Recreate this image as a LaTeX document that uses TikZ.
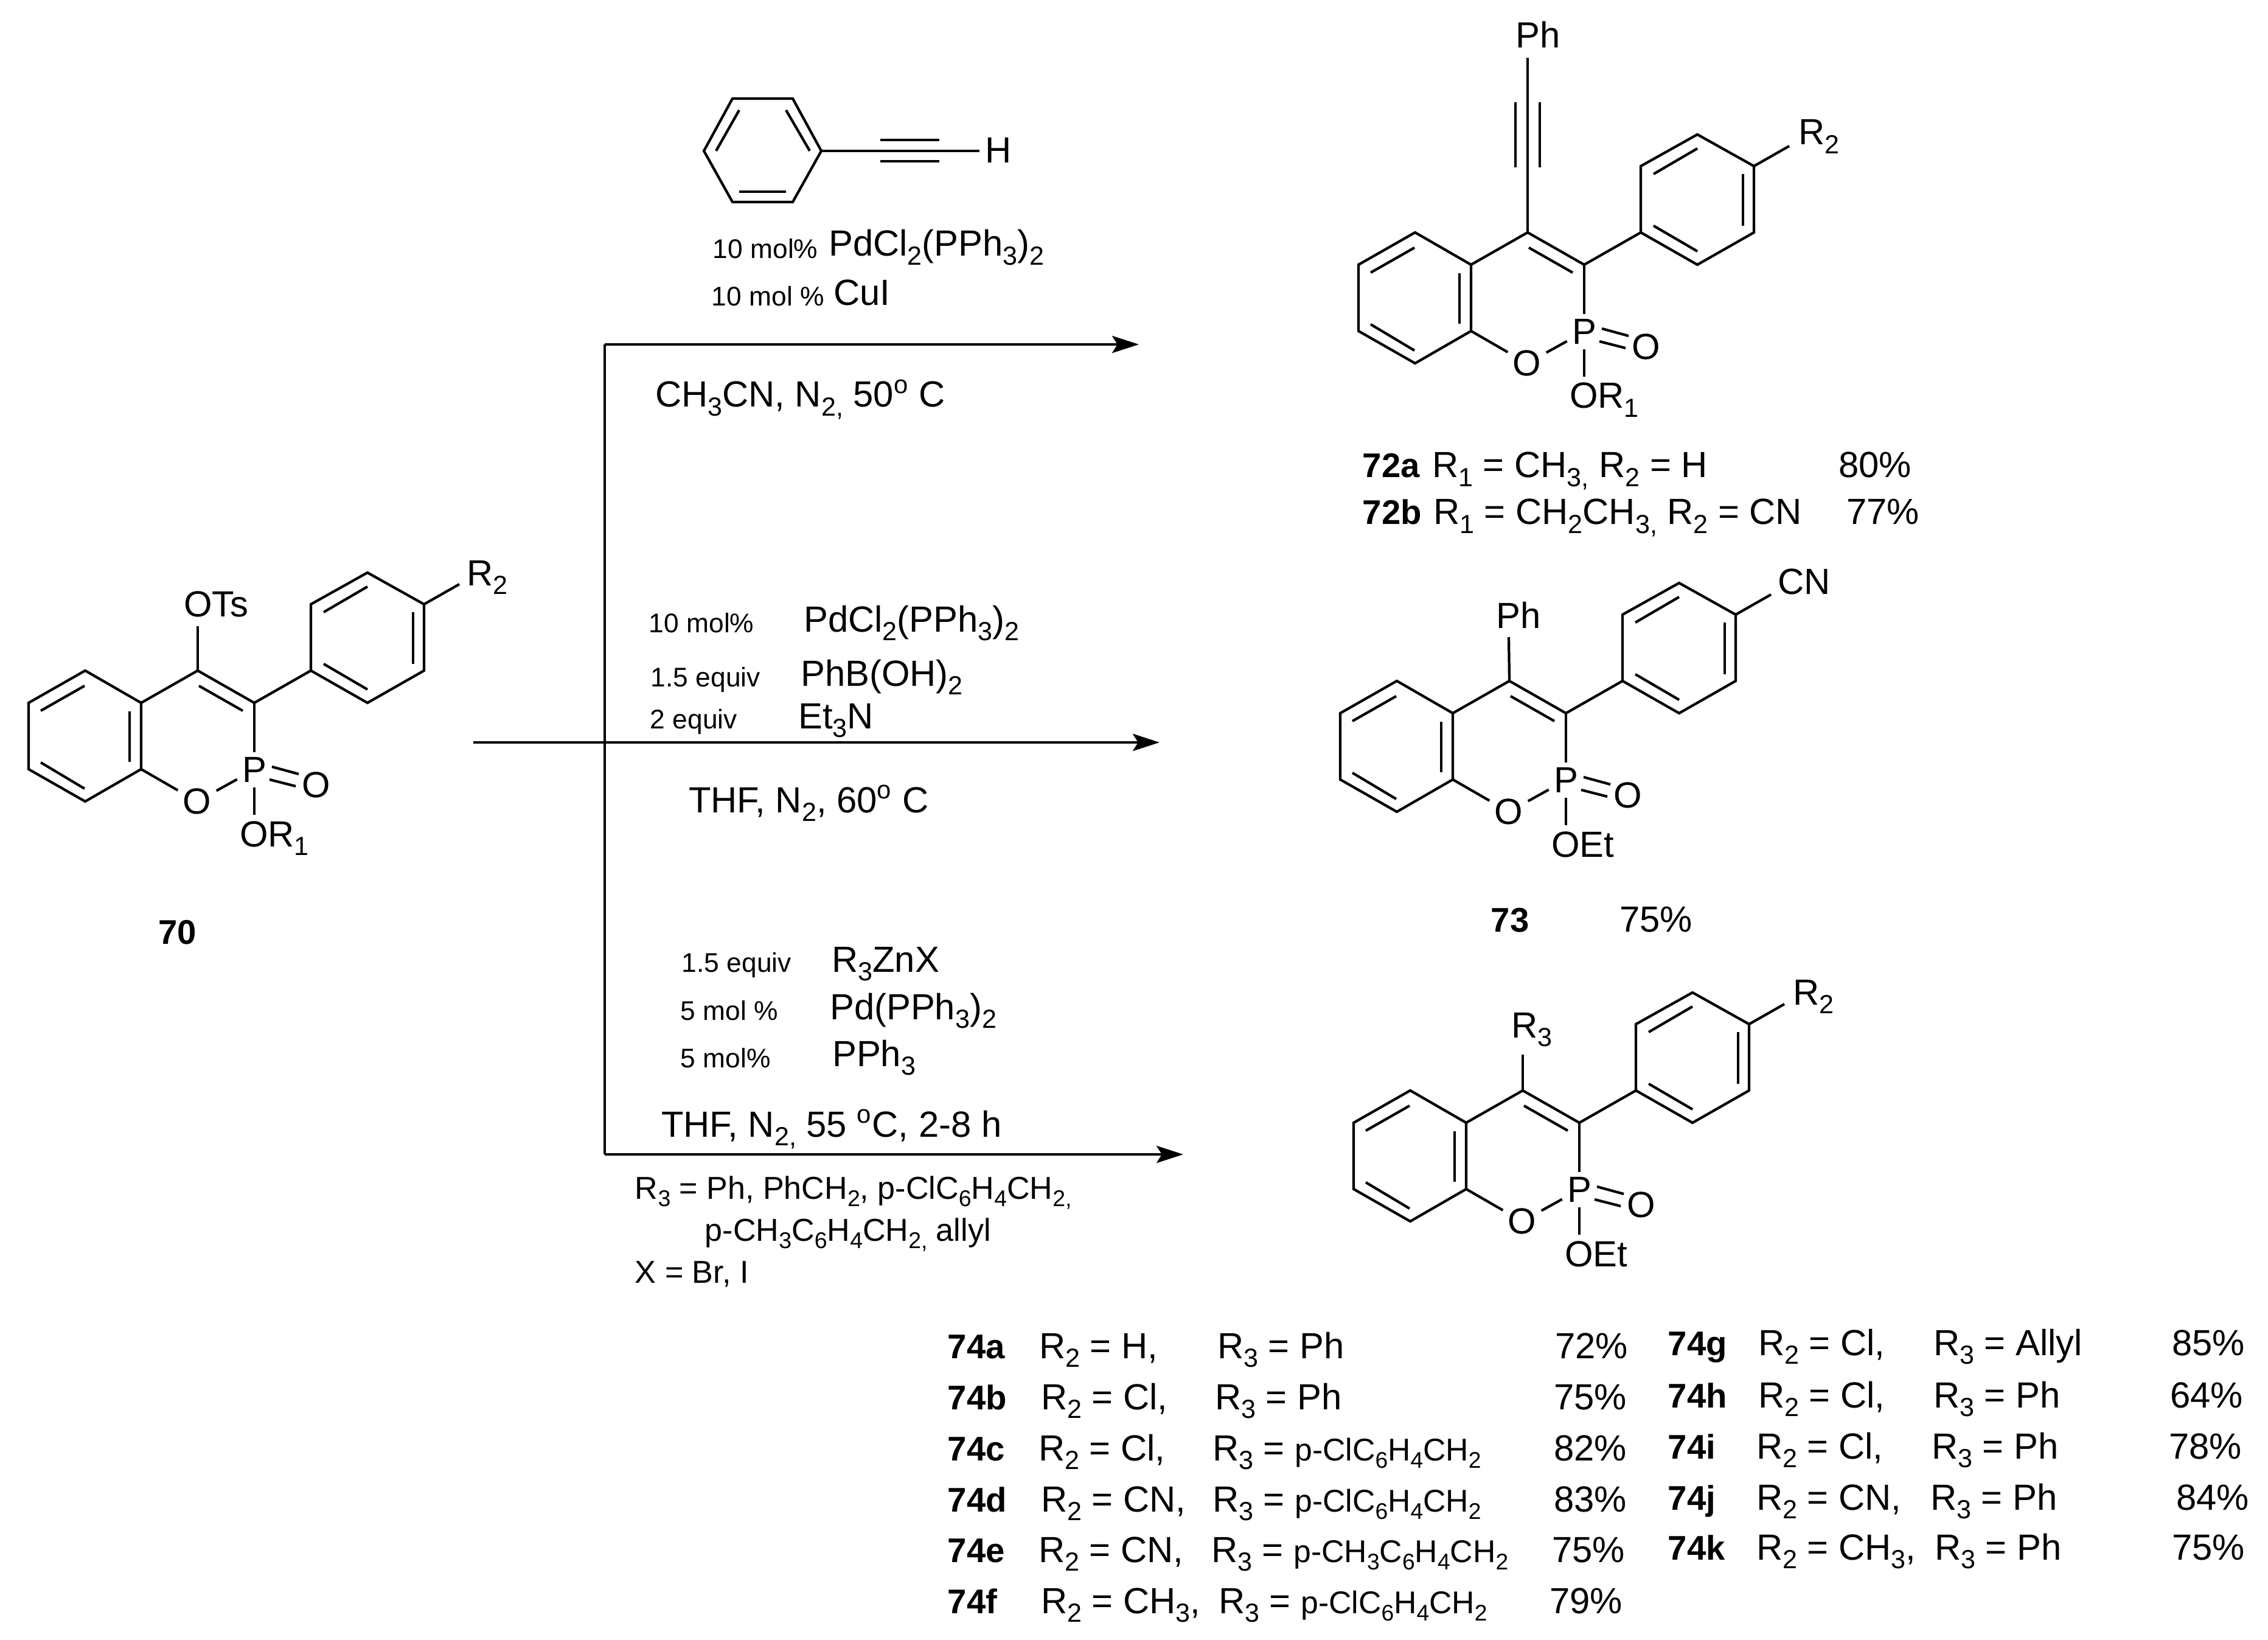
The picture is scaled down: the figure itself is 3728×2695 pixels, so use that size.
\documentclass[tikz,border=0pt]{standalone}
\usepackage{fontspec}
\setmainfont{Liberation Sans}
\newfontfamily\cmpdfont{Liberation Sans Bold}
\usetikzlibrary{arrows.meta}
\newcommand{\dn}[1]{\raisebox{-0.24em}{\scalebox{0.72}{#1}}}
\newcommand{\nar}{\fontsize{14.7}{16}\selectfont}

\tikzset{
    bond/.style={line width=1.2pt},
    rxn/.style={line width=1.35pt},
    tip/.style={-{Stealth[length=12.5pt,width=8pt,inset=2.5pt]}},
    txt/.style={anchor=base west,inner sep=0pt,xshift=-1pt,font=\fontsize{17}{20}\selectfont},
    mini/.style={anchor=base west,inner sep=0pt,xshift=-0.5pt,font=\fontsize{12.6}{14}\selectfont},
    note/.style={anchor=base west,inner sep=0pt,xshift=-0.5pt,font=\fontsize{14.8}{16}\selectfont},
    num/.style={anchor=base west,inner sep=0pt,font=\fontsize{16}{20}\cmpdfont},
    atom/.style={inner sep=2.2pt,font=\fontsize{17}{20}\selectfont},
    core/.pic={
        \coordinate (-cthree) at (0,0);
        \coordinate (-cfour) at (-93,-53);
        \coordinate (-b1) at (-186,0);
        \coordinate (-b2) at (-278,-53);
        \coordinate (-b3) at (-371,0);
        \coordinate (-b4) at (-371,109);
        \coordinate (-b5) at (-278,162);
        \coordinate (-b6) at (-186,109);
        \coordinate (-a1) at (93,-53);
        \coordinate (-a2) at (93,-162);
        \coordinate (-a3) at (186,-214);
        \coordinate (-a4) at (279,-162);
        \coordinate (-a5) at (279,-53);
        \coordinate (-a6) at (186,0);
        \coordinate (-rend) at (337,-195);
        \coordinate (-orend) at (0,184);
        \node[atom] (-p) at (0,110) {P};
        \node[atom] (-oring) at (-94,162) {O};
        \node[atom] (-oxo) at (102,135) {O};
        \node[txt] (-or) at (-21,236) {\tikzpictext};
        \draw[bond] (-b1)--(-b2)--(-b3)--(-b4)--(-b5)--(-b6)--cycle;
        \draw[bond] (-a1)--(-a2)--(-a3)--(-a4)--(-a5)--(-a6)--cycle;
        \draw[bond] (-b1)--(-cfour)--(-cthree)--(-a1);
        \draw[bond] (-cthree)--(-p);
        \draw[bond] (-b6)--(-oring);
        \draw[bond] (-oring)--(-p);
        \draw[bond] (-p)--(-orend);
        \draw[bond] (-a4)--(-rend);
        % inner lines of the double bonds
        \draw[bond] (-351,13)--(-279,-28);
        \draw[bond] (-205,14)--(-205,97);
        \draw[bond] (-351,98)--(-279,141);
        \draw[bond] (-91,-28)--(-19,13);
        \draw[bond] (114,-149)--(186,-191);
        \draw[bond] (261,-149)--(261,-64);
        \draw[bond] (114,-64)--(186,-22);
        \draw[bond] (29,105)--(73,117);
        \draw[bond] (25,126)--(68,137);
    },
}

\begin{document}
\begin{tikzpicture}[x=0.01cm,y=-0.01cm]
    \useasboundingbox (0,0) rectangle (3728,2695);

    % arrows
    \coordinate (start) at (778,1220);
    \coordinate (top) at (994,566);
    \coordinate (bot) at (994,1897);
    \coordinate (tipa) at (1872,566);
    \coordinate (tipb) at (1906,1220);
    \coordinate (tipc) at (1945,1897);
    \draw[rxn] (top) -- (bot);
    \draw[rxn,tip] (top) -- (tipa);
    \draw[rxn,tip] (start) -- (tipb);
    \draw[rxn,tip] (bot) -- (tipc);

    % starting material
    \pic[pic text={OR\dn{1}}] (m70) at (418,1155) {core};
    \coordinate (otsend) at (325,1029);
    \node[txt] (ots) at (305,1014) {OTs};
    \node[txt] (r70) at (770,962) {R\dn{2}};
    \node[num] (n70) at (260,1551) {70};
    \draw[bond] (m70-cfour) -- (otsend);

    % phenylacetylene
    \coordinate (h1) at (1157,248);
    \coordinate (h2) at (1204,162);
    \coordinate (h3) at (1303,162);
    \coordinate (h4) at (1350,248);
    \coordinate (h5) at (1303,332);
    \coordinate (h6) at (1204,332);
    \node[txt] (hyd) at (1622,268) {H};
    \coordinate (hend) at (1610,248);
    \draw[bond] (h1)--(h2)--(h3)--(h4)--(h5)--(h6)--cycle;
    \draw[bond] (1215,181)--(1177,248);
    \draw[bond] (1292,181)--(1331,248);
    \draw[bond] (1215,315)--(1292,315);
    \draw[bond] (h4)--(hend);
    \draw[bond] (1447,230)--(1544,230);
    \draw[bond] (1447,265)--(1544,265);

    % upper conditions
    \node[mini] (qa) at (1173,425) {10 mol\%};
    \node[txt] (ra) at (1365,421) {PdCl\dn{2}(PPh\dn{3})\dn{2}};
    \node[mini] (qb) at (1171,503) {10 mol \%};
    \node[txt] (rb) at (1373,502) {CuI};
    \node[txt] (sa) at (1080,669) {CH\dn{3}CN, N\dn{2,} 50\textsuperscript{o} C};

    % middle conditions
    \node[mini] (qc) at (1068,1040) {10 mol\%};
    \node[txt] (rc) at (1324,1038) {PdCl\dn{2}(PPh\dn{3})\dn{2}};
    \node[mini] (qd) at (1071,1128) {1.5 equiv};
    \node[txt] (rd) at (1319,1127) {PhB(OH)\dn{2}};
    \node[mini] (qe) at (1070,1197) {2 equiv};
    \node[txt] (re) at (1315,1197) {Et\dn{3}N};
    \node[txt] (sb) at (1135,1335) {THF, N\dn{2}, 60\textsuperscript{o} C};

    % lower conditions
    \node[mini] (qf) at (1122,1597) {1.5 equiv};
    \node[txt] (rf) at (1370,1597) {R\dn{3}ZnX};
    \node[mini] (qg) at (1120,1676) {5 mol \%};
    \node[txt] (rg) at (1367,1675) {Pd(PPh\dn{3})\dn{2}};
    \node[mini] (qh) at (1120,1754) {5 mol\%};
    \node[txt] (rh) at (1371,1752) {PPh\dn{3}};
    \node[txt] (sc) at (1090,1868) {THF, N\dn{2,} 55 \textsuperscript{o}C, 2-8 h};
    \node[note] (da) at (1045,1970) {R\dn{3} = Ph, PhCH\dn{2}, p-ClC\dn{6}H\dn{4}CH\dn{2,}};
    \node[note] (db) at (1160,2039) {p-CH\dn{3}C\dn{6}H\dn{4}CH\dn{2,} allyl};
    \node[note] (dc) at (1045,2108) {X = Br, I};

    % product 72
    \pic[pic text={OR\dn{1}}] (m72) at (2604,435) {core};
    \coordinate (yneend) at (2511,95);
    \node[txt] (ph72) at (2494,79) {Ph};
    \node[txt] (r72) at (2959,238) {R\dn{2}};
    \draw[bond] (m72-cfour) -- (yneend);
    \draw[bond] (2491,168)--(2491,275);
    \draw[bond] (2531,168)--(2531,275);
    \node[num] (n72a) at (2239,785) {72a};
    \node[txt] (t72a) at (2357,785) {R\dn{1} = CH\dn{3,} R\dn{2} = H};
    \node[txt] (y72a) at (3025,785) {80\%};
    \node[num] (n72b) at (2239,862) {72b};
    \node[txt] (t72b) at (2359,862) {R\dn{1} = CH\dn{2}CH\dn{3,} R\dn{2} = CN};
    \node[txt] (y72b) at (3038,862) {77\%};

    % product 73
    \pic[pic text={OEt}] (m73) at (2574,1172) {core};
    \coordinate (phend) at (2480,1047);
    \node[txt] (ph73) at (2462,1033) {Ph};
    \node[txt] (cn73) at (2925,977) {CN};
    \draw[bond] (m73-cfour) -- (phend);
    \node[num] (n73) at (2450,1531) {73};
    \node[txt] (y73) at (2665,1531) {75\%};

    % product 74
    \pic[pic text={OEt}] (m74) at (2596,1845) {core};
    \coordinate (rthreeend) at (2503,1733);
    \node[txt] (r74) at (2487,1705) {R\dn{3}};
    \node[txt] (rr74) at (2950,1651) {R\dn{2}};
    \draw[bond] (m74-cfour) -- (rthreeend);

    % table, left side
    \node[num] (n74a) at (1557,2232) {74a};
    \node[txt] (p74a) at (1711,2232) {R\dn{2} = H,};
    \node[txt] (q74a) at (2004,2232) {R\dn{3} = Ph};
    \node[txt] (y74a) at (2559,2232) {72\%};
    \node[num] (n74b) at (1557,2316) {74b};
    \node[txt] (p74b) at (1714,2316) {R\dn{2} = Cl,};
    \node[txt] (q74b) at (2000,2316) {R\dn{3} = Ph};
    \node[txt] (y74b) at (2557,2316) {75\%};
    \node[num] (n74c) at (1557,2400) {74c};
    \node[txt] (p74c) at (1710,2400) {R\dn{2} = Cl,};
    \node[txt] (q74c) at (1996,2400) {R\dn{3} = {\nar p-ClC\dn{6}H\dn{4}CH\dn{2}}};
    \node[txt] (y74c) at (2557,2400) {82\%};
    \node[num] (n74d) at (1557,2484) {74d};
    \node[txt] (p74d) at (1714,2484) {R\dn{2} = CN,};
    \node[txt] (q74d) at (1996,2484) {R\dn{3} = {\nar p-ClC\dn{6}H\dn{4}CH\dn{2}}};
    \node[txt] (y74d) at (2557,2484) {83\%};
    \node[num] (n74e) at (1557,2567) {74e};
    \node[txt] (p74e) at (1710,2567) {R\dn{2} = CN,};
    \node[txt] (q74e) at (1994,2567) {R\dn{3} = {\nar p-CH\dn{3}C\dn{6}H\dn{4}CH\dn{2}}};
    \node[txt] (y74e) at (2554,2567) {75\%};
    \node[num] (n74f) at (1557,2651) {74f};
    \node[txt] (p74f) at (1714,2651) {R\dn{2} = CH\dn{3},};
    \node[txt] (q74f) at (2006,2651) {R\dn{3} = {\nar p-ClC\dn{6}H\dn{4}CH\dn{2}}};
    \node[txt] (y74f) at (2550,2651) {79\%};

    % table, right side
    \node[num] (n74g) at (2741,2227) {74g};
    \node[txt] (p74g) at (2893,2227) {R\dn{2} = Cl,};
    \node[txt] (q74g) at (3181,2227) {R\dn{3} = Allyl};
    \node[txt] (y74g) at (3573,2227) {85\%};
    \node[num] (n74h) at (2741,2313) {74h};
    \node[txt] (p74h) at (2893,2313) {R\dn{2} = Cl,};
    \node[txt] (q74h) at (3181,2313) {R\dn{3} = Ph};
    \node[txt] (y74h) at (3570,2313) {64\%};
    \node[num] (n74i) at (2741,2397) {74i};
    \node[txt] (p74i) at (2890,2397) {R\dn{2} = Cl,};
    \node[txt] (q74i) at (3178,2397) {R\dn{3} = Ph};
    \node[txt] (y74i) at (3568,2397) {78\%};
    \node[num] (n74j) at (2741,2481) {74j};
    \node[txt] (p74j) at (2890,2481) {R\dn{2} = CN,};
    \node[txt] (q74j) at (3176,2481) {R\dn{3} = Ph};
    \node[txt] (y74j) at (3580,2481) {84\%};
    \node[num] (n74k) at (2741,2563) {74k};
    \node[txt] (p74k) at (2890,2563) {R\dn{2} = CH\dn{3},};
    \node[txt] (q74k) at (3183,2563) {R\dn{3} = Ph};
    \node[txt] (y74k) at (3573,2563) {75\%};
\end{tikzpicture}
\end{document}
